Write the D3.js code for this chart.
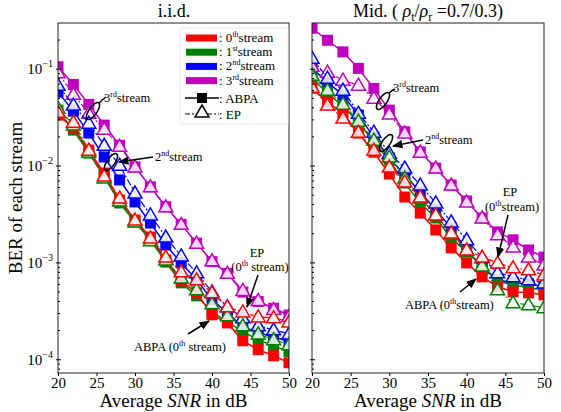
<!DOCTYPE html>
<html><head><meta charset="utf-8">
<script src="https://cdn.jsdelivr.net/npm/d3@7/dist/d3.min.js"></script>
<style>body{margin:0;background:#fff}svg, svg text{font-family:"Liberation Serif","Times New Roman",serif !important}</style>
</head><body><svg id="c" width="561" height="412"></svg>
<script>
const snr = [20,22,24,26,28,30,32,34,36,38,40,42,44,46,48,50];
const xTicks = [20,25,30,35,40,45,50];
const yTickLabels = ["10^-1","10^-2","10^-3","10^-4"];
const streamNames = ["0th","1st","2nd","3rd"];
const streamColors = ["#ff0000","#008000","#0000ff","#bf00bf"];
const panelTitles = ["i.i.d.","Mid."];

// i.i.d. panel
const iidABPA0 = [0.0336,0.0247,0.0146,0.00847,0.00446,0.00277,0.00185,0.00107,0.000652,0.000491,0.000291,0.00024,0.000157,0.000127,0.00011,0.000093];
const iidABPA1 = [0.0378,0.0235,0.0136,0.00788,0.00416,0.00265,0.00173,0.00102,0.000622,0.000457,0.000312,0.000246,0.000195,0.000161,0.000139,0.000121];
const iidABPA2 = [0.058,0.0369,0.0219,0.0124,0.00718,0.00426,0.00258,0.00153,0.0010,0.00067,0.000416,0.000305,0.000219,0.00019,0.000173,0.000153];
const iidABPA3 = [0.106,0.0695,0.0433,0.0265,0.0164,0.0098,0.0061,0.0038,0.0025,0.0016,0.00103,0.00078,0.0005,0.0004,0.00034,0.00029];
const iidEP0 = [0.036,0.0284,0.0146,0.00788,0.00468,0.00277,0.00181,0.00115,0.00081,0.00067,0.000491,0.000352,0.000312,0.000277,0.000271,0.000246];
const iidEP1 = [0.0396,0.0265,0.0139,0.00752,0.00436,0.00265,0.00169,0.00107,0.0007,0.000527,0.000378,0.000284,0.000224,0.000185,0.000161,0.000143];
const iidEP2 = [0.0684,0.0426,0.0277,0.0164,0.0102,0.00527,0.00313,0.00185,0.00118,0.00079,0.000502,0.000352,0.000271,0.000224,0.000204,0.000185];
const iidEP3 = [0.092,0.055,0.035,0.024,0.016,0.0098,0.0061,0.0038,0.0025,0.0016,0.00105,0.00078,0.00052,0.00041,0.00033,0.00028];

// Mid. panel
const midABPA0 = [0.0637,0.0457,0.0352,0.0219,0.0139,0.00828,0.00479,0.00327,0.00219,0.00143,0.001,0.000718,0.000567,0.000502,0.000491,0.000468];
const midABPA1 = [0.0808,0.0567,0.0416,0.0284,0.0177,0.0115,0.00668,0.00416,0.00291,0.00181,0.0013,0.00095,0.000652,0.000593,0.000552,0.000527];
const midABPA2 = [0.102,0.0735,0.054,0.0336,0.0199,0.0121,0.00807,0.0054,0.00352,0.0023,0.00136,0.00089,0.00067,0.000622,0.000608,0.000567];
const midABPA3 = [0.265,0.199,0.151,0.102,0.0633,0.0378,0.0226,0.014,0.00953,0.00637,0.00436,0.00291,0.00209,0.00173,0.00136,0.00115];
const midEP0 = [0.0652,0.0426,0.0313,0.0224,0.0146,0.00977,0.00684,0.00479,0.00313,0.00204,0.00136,0.00115,0.001,0.00089,0.00085,0.00075];
const midEP1 = [0.0867,0.0608,0.0436,0.0291,0.0185,0.0124,0.00752,0.00468,0.00313,0.00199,0.00136,0.00093,0.000527,0.000387,0.000369,0.000344];
const midEP2 = [0.13,0.0808,0.0608,0.0352,0.0224,0.0136,0.00953,0.00637,0.00416,0.00265,0.00173,0.00113,0.00079,0.000718,0.00067,0.000622];
const midEP3 = [0.107,0.0931,0.077,0.0684,0.0502,0.0344,0.0219,0.0139,0.00953,0.00637,0.00426,0.00291,0.00195,0.00146,0.00115,0.00095];

const FONT = "Liberation Serif";
const panels = [
  {x0:58, x1:289, abpa:[iidABPA0,iidABPA1,iidABPA2,iidABPA3], ep:[iidEP0,iidEP1,iidEP2,iidEP3], labels:true},
  {x0:312, x1:544, abpa:[midABPA0,midABPA1,midABPA2,midABPA3], ep:[midEP0,midEP1,midEP2,midEP3], labels:false}
];
const yTop = 23, yBot = 373;
const svg = d3.select("#c").attr("font-family",FONT);
const defs = svg.append("defs");
defs.append("marker").attr("id","arr").attr("viewBox","0 0 10 10").attr("refX",9).attr("refY",5)
  .attr("markerWidth",7).attr("markerHeight",7).attr("orient","auto-start-reverse")
  .append("path").attr("d","M0,1 L10,5 L0,9 z").attr("fill","#000");

const y = d3.scaleLog().domain([7.3e-5, 0.3]).range([yBot, yTop]);

panels.forEach((p, pi) => {
  const x = d3.scaleLinear().domain([20,50]).range([p.x0, p.x1]);
  const g = svg.append("g");
  const cid = "clip"+pi;
  defs.append("clipPath").attr("id",cid).append("rect").attr("x",p.x0).attr("y",yTop).attr("width",p.x1-p.x0).attr("height",yBot-yTop);
  const plot = g.append("g").attr("clip-path",`url(#${cid})`);
  const line = d3.line().x((d,i)=>x(snr[i])).y(d=>y(d));
  [3,2,1,0].forEach(s => {
    plot.append("path").datum(p.abpa[s]).attr("d",line).attr("fill","none").attr("stroke",streamColors[s]).attr("stroke-width",1.5);
    plot.selectAll(null).data(p.abpa[s]).enter().append("rect")
      .attr("x",(d,i)=>x(snr[i])-5.5).attr("y",d=>y(d)-5.5).attr("width",11).attr("height",11)
      .attr("fill",streamColors[s]);
  });
  [3,2,1,0].forEach(s => {
    plot.append("path").datum(p.ep[s]).attr("d",line).attr("fill","none").attr("stroke",streamColors[s]).attr("stroke-width",1.2).attr("stroke-dasharray","7,2,2,2");
    plot.selectAll(null).data(p.ep[s]).enter().append("path")
      .attr("d",(d,i)=>{const cx=x(snr[i]), cy=y(d); return `M${cx},${cy-7} L${cx+7},${cy+5} L${cx-7},${cy+5} Z`;})
      .attr("fill","#fff").attr("fill-opacity",0.85).attr("stroke",streamColors[s]).attr("stroke-width",1.5);
  });
  g.append("rect").attr("x",p.x0).attr("y",yTop).attr("width",p.x1-p.x0).attr("height",yBot-yTop)
    .attr("fill","none").attr("stroke","#222").attr("stroke-width",1);
  const xa = g.append("g").attr("transform",`translate(0,${yBot})`).call(d3.axisBottom(x).tickValues(xTicks).tickSize(3).tickPadding(1));
  xa.attr("font-family",FONT).attr("font-size",15);
  xa.select(".domain").remove();
  xa.selectAll("text").attr("fill","#000");
  const maj = [1e-1,1e-2,1e-3,1e-4];
  const minors = [];
  [1e-5,1e-4,1e-3,1e-2,1e-1].forEach(dec => { for (let k=2;k<=9;k++){ const v=dec*k; if (v>=7.3e-5 && v<=0.3) minors.push(v);} });
  minors.forEach(v => g.append("line").attr("x1",p.x0).attr("x2",p.x0+2).attr("y1",y(v)).attr("y2",y(v)).attr("stroke","#000"));
  maj.forEach((v,i) => {
    g.append("line").attr("x1",p.x0-2).attr("x2",p.x0+3).attr("y1",y(v)).attr("y2",y(v)).attr("stroke","#000");
    if (p.labels) {
      const t = g.append("text").attr("x",p.x0-5).attr("y",y(v)+5).attr("text-anchor","end").attr("font-size",15);
      t.append("tspan").text("10");
      t.append("tspan").attr("font-size",10).attr("dy",-7).text("\u2212" + yTickLabels[i].split("^-")[1]);
    }
  });
  const xl = g.append("text").attr("x",(p.x0+p.x1)/2).attr("y",407).attr("text-anchor","middle").attr("font-size",19);
  xl.append("tspan").text("Average ");
  xl.append("tspan").attr("font-style","italic").text("SNR");
  xl.append("tspan").text(" in dB");
});

svg.append("text").attr("x",174).attr("y",17).attr("text-anchor","middle").attr("font-size",18).text(panelTitles[0]);
const t2 = svg.append("text").attr("x",428).attr("y",17).attr("text-anchor","middle").attr("font-size",18);
t2.append("tspan").text(panelTitles[1] + " ( ");
t2.append("tspan").attr("font-style","italic").text("\u03C1");
t2.append("tspan").attr("font-size",12).attr("dy",4).text("t");
t2.append("tspan").attr("dy",-4).text("/");
t2.append("tspan").attr("font-style","italic").text("\u03C1");
t2.append("tspan").attr("font-size",12).attr("dy",4).text("r");
t2.append("tspan").attr("dy",-4).text(" =0.7/0.3)");

svg.append("text").attr("transform","translate(22,198) rotate(-90)").attr("text-anchor","middle").attr("font-size",19).text("BER of each stream");

const lg = svg.append("g");
lg.append("rect").attr("x",180).attr("y",28).attr("width",108).attr("height",96).attr("fill","#fff").attr("stroke","#e6e6e6").attr("stroke-width",0.8);
[0,1,2,3].forEach(s => {
  const yy = 38 + s*14.2;
  lg.append("rect").attr("x",186).attr("y",yy-3.5).attr("width",31).attr("height",7).attr("fill",streamColors[s]);
  const t = lg.append("text").attr("x",219).attr("y",yy+4).attr("font-size",13);
  t.append("tspan").text(": " + streamNames[s].slice(0,1));
  t.append("tspan").attr("font-size",8).attr("dy",-5).text(streamNames[s].slice(1));
  t.append("tspan").attr("dy",5).text("stream");
});
lg.append("line").attr("x1",185).attr("x2",219).attr("y1",98).attr("y2",98).attr("stroke","#000").attr("stroke-width",1.5);
lg.append("rect").attr("x",197).attr("y",93).attr("width",10).attr("height",10).attr("fill","#000");
lg.append("text").attr("x",219).attr("y",103).attr("font-size",13).text(": ABPA");
lg.append("line").attr("x1",185).attr("x2",219).attr("y1",114).attr("y2",114).attr("stroke","#000").attr("stroke-width",1.2).attr("stroke-dasharray","5,2,2,2");
lg.append("path").attr("d","M202,105 L209,117 L195,117 Z").attr("fill","#fff").attr("stroke","#000").attr("stroke-width",1.5);
lg.append("text").attr("x",219).attr("y",119).attr("font-size",13).text(": EP");

const ann = svg.append("g").attr("font-size",12.5).attr("font-family",FONT);
function supText(xx, yy, pre, sup, post, anchor) {
  const t = ann.append("text").attr("x",xx).attr("y",yy).attr("text-anchor",anchor||"start");
  t.append("tspan").text(pre);
  t.append("tspan").attr("font-size",8).attr("dy",-5).text(sup);
  t.append("tspan").attr("dy",5).text(post);
  return t;
}
function ell(cx, cy) {
  ann.append("ellipse").attr("cx",cx).attr("cy",cy).attr("rx",10).attr("ry",4).attr("transform",`rotate(-55,${cx},${cy})`)
    .attr("fill","none").attr("stroke","#000").attr("stroke-width",1.5);
}
function arrow(x1,y1,x2,y2){
  ann.append("line").attr("x1",x1).attr("y1",y1).attr("x2",x2).attr("y2",y2).attr("stroke","#000").attr("stroke-width",1.5).attr("marker-end","url(#arr)");
}
ell(93,111); ann.append("path").attr("d","M99,103 Q103,99 106,97").attr("fill","none").attr("stroke","#000").attr("stroke-width",1.5);
supText(104,102,"3","rd","stream");
ell(111,162); arrow(153,157,119,162);
supText(155,161,"2","nd","stream");
ann.append("text").attr("x",257).attr("y",257).attr("text-anchor","middle").text("EP");
supText(260,271,"(0","th"," stream)","middle");
arrow(258,275,247,307);
supText(134,351,"ABPA (0","th"," stream)");
arrow(188,334,209,321);
ell(383,101); ann.append("path").attr("d","M389,93 Q392,90 395,89").attr("fill","none").attr("stroke","#000").attr("stroke-width",1.5);
supText(393,92,"3","rd","stream");
ell(386,143); arrow(423,140,393,146);
supText(425,144,"2","nd","stream");
ann.append("text").attr("x",510).attr("y",196).attr("text-anchor","middle").text("EP");
supText(512,211,"(0","th","stream)","middle");
arrow(508,215,498,257);
supText(405,309,"ABPA (0","th","stream)");
arrow(460,292,476,279);
</script></body></html>
